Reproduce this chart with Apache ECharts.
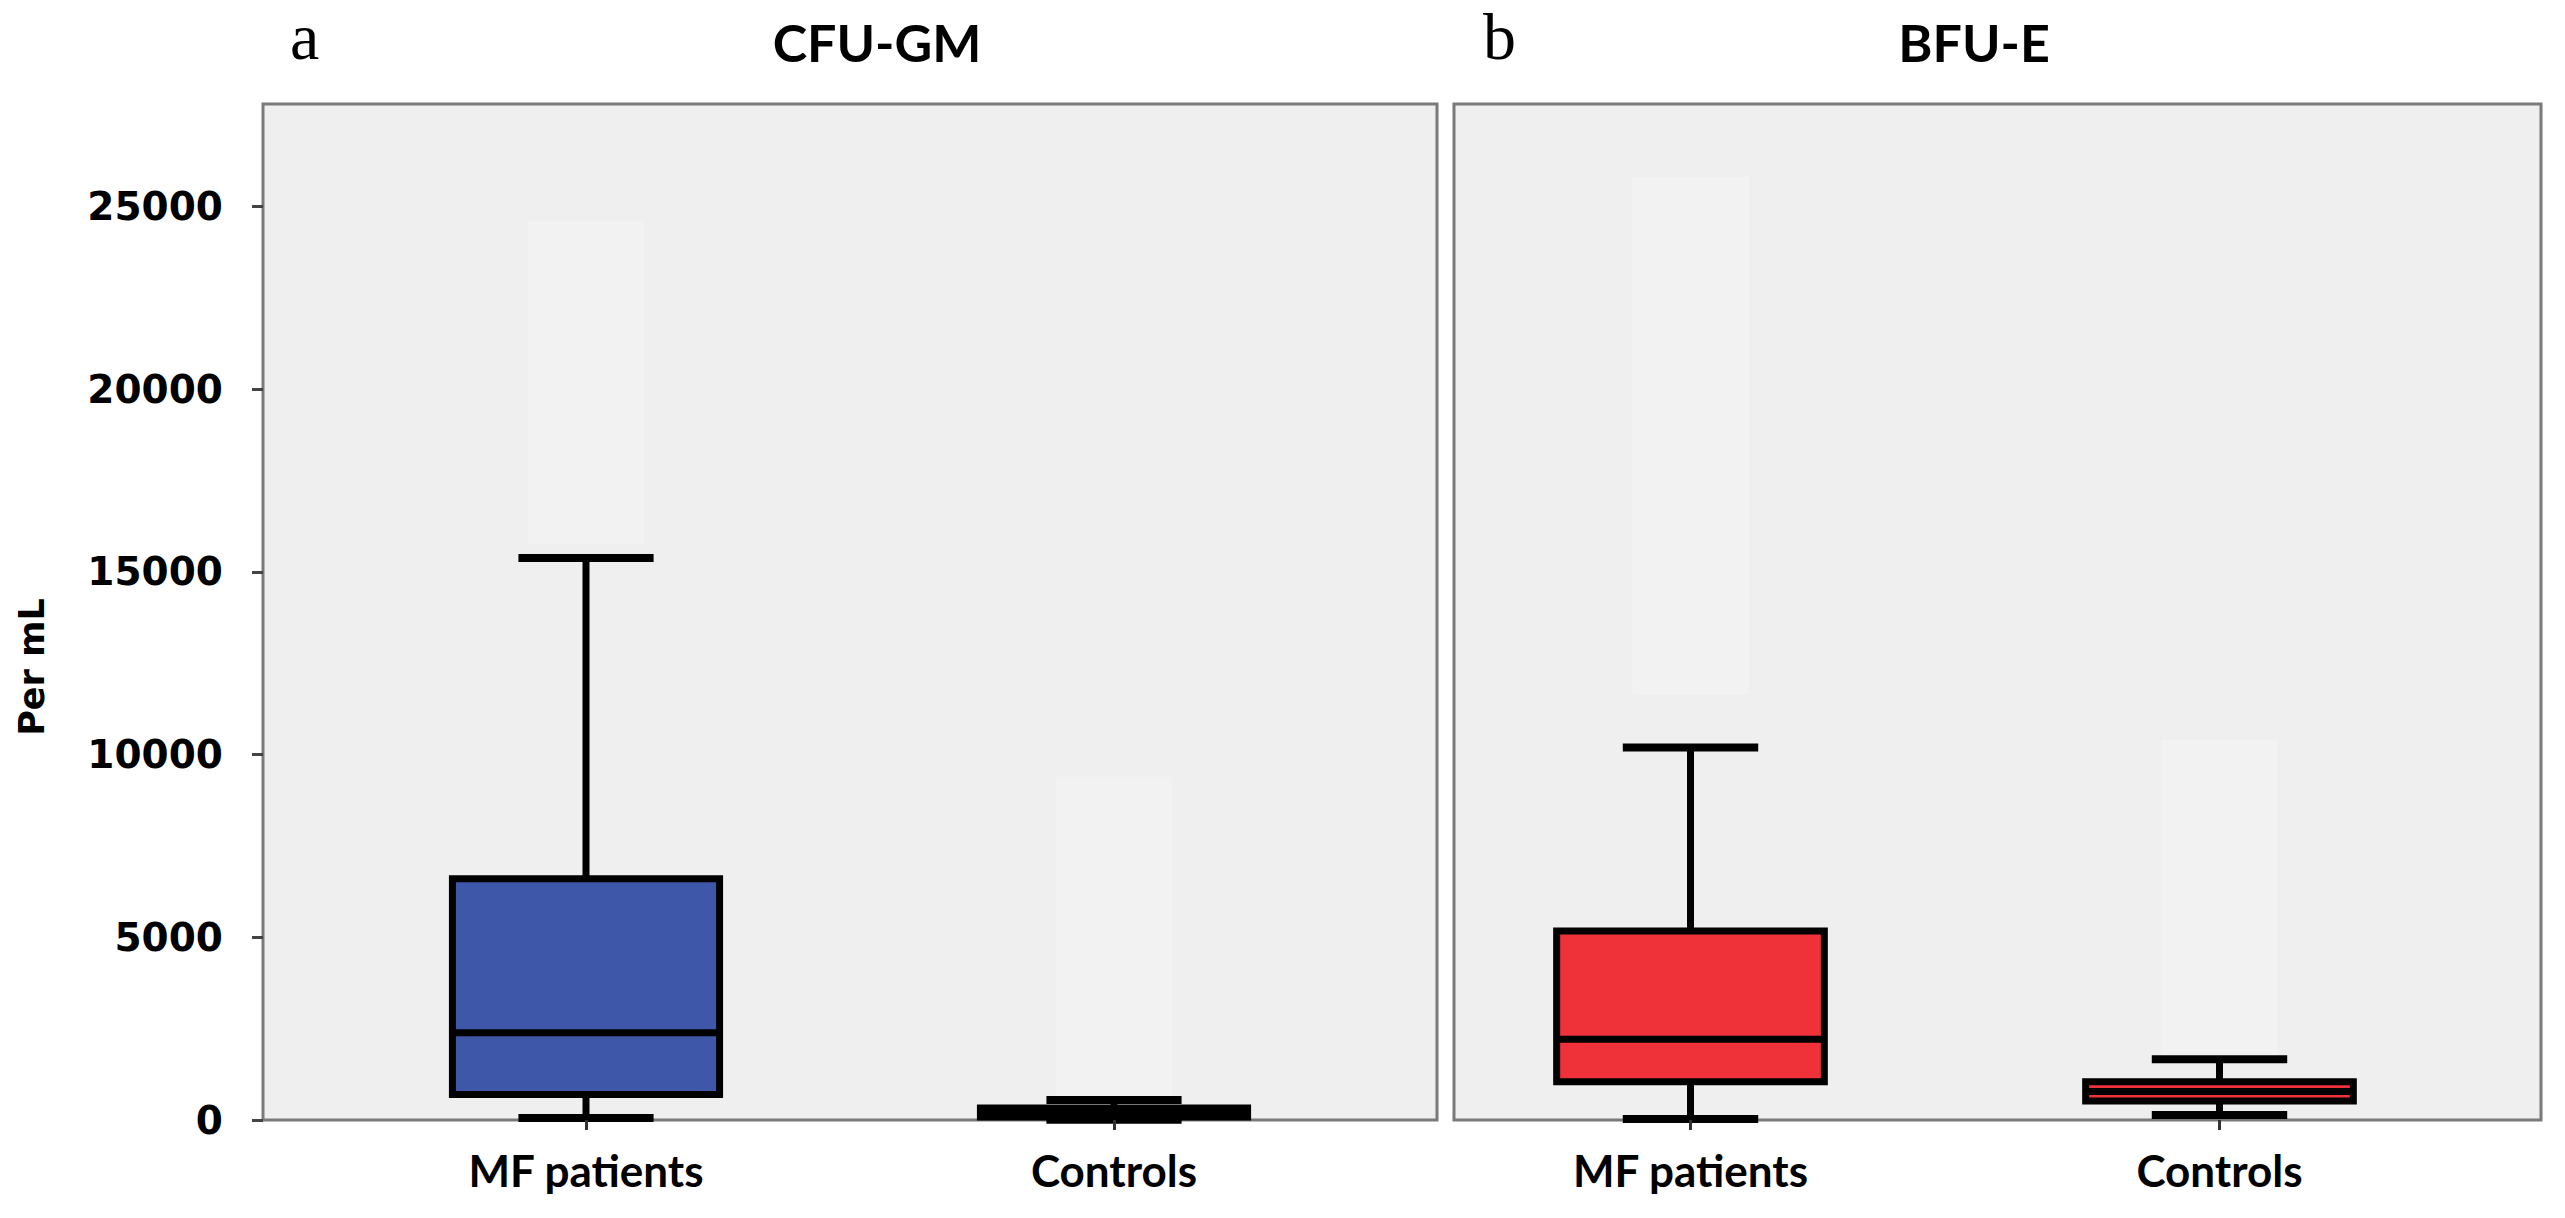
<!DOCTYPE html>
<html><head><meta charset="utf-8">
<script src="https://cdn.jsdelivr.net/npm/echarts@6/dist/echarts.min.js"></script>
<style>html,body{margin:0;padding:0;background:#fff}#chart{width:2565px;height:1218px}</style>
</head><body><div id="chart"></div>
<script>
const categories = ['MF patients', 'Controls'];
const panelTitles = ['CFU-GM', 'BFU-E'];
const panelLetters = ['a', 'b'];
const yAxisName = 'Per mL';
const yTicks = [0, 5000, 10000, 15000, 20000, 25000];
const yMax = 27800;

// CFU-GM box statistics per category
const cfuMin = [55, 10];
const cfuQ1 = [700, 80];
const cfuMedian = [2390, 200];
const cfuQ3 = [6600, 330];
const cfuMax = [15380, 547];
// BFU-E box statistics per category
const bfuMin = [30, 137];
const bfuQ1 = [1048, 520];
const bfuMedian = [2209, 780];
const bfuQ3 = [5173, 1048];
const bfuMax = [10190, 1660];
// faint light bands above each whisker
const cfuBandLow = [15750, 560];
const cfuBandHigh = [24600, 9400];
const bfuBandLow = [11650, 1700];
const bfuBandHigh = [25800, 10400];

const boxData = (mn, q1, md, q3, mx) => categories.map((c, i) => [i, mn[i], q1[i], md[i], q3[i], mx[i]]);
const bandData = (lo, hi) => categories.map((c, i) => [i, lo[i], hi[i]]);

function boxRenderer(fill) {
  return function (params, api) {
    const c = api.value(0);
    const band = api.size([1, 0])[0];
    const bw = band * 0.506, cw = band * 0.256;
    const pt = v => api.coord([c, v]);
    const pMin = pt(api.value(1)), pQ1 = pt(api.value(2)), pMed = pt(api.value(3)),
          pQ3 = pt(api.value(4)), pMax = pt(api.value(5));
    const x = pMin[0];
    const ls = {stroke: '#000', lineWidth: 7};
    return {type: 'group', children: [
      {type: 'line', shape: {x1: x, y1: pQ3[1], x2: x, y2: pMax[1]}, style: ls},
      {type: 'line', shape: {x1: x, y1: pQ1[1], x2: x, y2: pMin[1]}, style: ls},
      {type: 'rect', shape: {x: x - bw / 2, y: pQ3[1], width: bw, height: pQ1[1] - pQ3[1]},
        style: {fill: fill, stroke: '#000', lineWidth: 7}},
      {type: 'line', shape: {x1: x - bw / 2, y1: pMed[1], x2: x + bw / 2, y2: pMed[1]}, style: ls},
      {type: 'line', shape: {x1: x - cw / 2, y1: pMax[1], x2: x + cw / 2, y2: pMax[1]}, style: {stroke: '#000', lineWidth: 8}},
      {type: 'line', shape: {x1: x - cw / 2, y1: pMin[1], x2: x + cw / 2, y2: pMin[1]}, style: {stroke: '#000', lineWidth: 8}}
    ]};
  };
}
function bandRenderer(params, api) {
  const c = api.value(0);
  const band = api.size([1, 0])[0];
  const w = band * 0.22;
  const lo = api.coord([c, api.value(1)]), hi = api.coord([c, api.value(2)]);
  return {type: 'rect', shape: {x: lo[0] - w / 2, y: hi[1], width: w, height: lo[1] - hi[1]},
    style: {fill: '#f2f2f2'}};
}

const catFont = {fontFamily: 'Lato', fontWeight: 'bold', fontSize: 44, color: '#000'};
const grids = [
  {left: 322, width: 1056, top: 104, height: 1016},
  {left: 1426, width: 1058, top: 104, height: 1016}
];
const xAxes = [0, 1].map(g => ({
  type: 'category', gridIndex: g, data: categories, z: 5,
  axisLine: {show: false},
  axisTick: {show: true, alignWithLabel: true, length: 10, lineStyle: {color: '#333', width: 3}},
  axisLabel: Object.assign({margin: 28}, catFont),
  splitLine: {show: false}
}));
const yAxes = [0, 1].map(g => ({
  type: 'value', gridIndex: g, min: 0, max: yMax, z: 5,
  show: g === 0,
  offset: 59,
  axisLine: {show: false},
  axisTick: {show: true, customValues: yTicks, length: 11, lineStyle: {color: '#444', width: 3}},
  axisLabel: {customValues: yTicks, margin: 40, formatter: v => String(v),
    fontFamily: 'DejaVu Sans', fontWeight: 'bold', fontSize: 39, color: '#000'},
  splitLine: {show: false}
}));

const frameStyle = {fill: '#efefef', stroke: '#7a7a7a', lineWidth: 3};
const option = {
  animation: false,
  backgroundColor: '#fff',
  grid: grids,
  xAxis: xAxes,
  yAxis: yAxes,
  graphic: [
    {type: 'rect', z: -10, shape: {x: 263, y: 104, width: 1174, height: 1016}, style: frameStyle},
    {type: 'rect', z: -10, shape: {x: 1454, y: 104, width: 1087, height: 1016}, style: frameStyle},
    {type: 'text', x: 290, y: 36, style: {text: panelLetters[0], font: '66px "Liberation Serif"', fill: '#000', align: 'left', verticalAlign: 'middle'}},
    {type: 'text', x: 1483, y: 36, style: {text: panelLetters[1], font: '66px "Liberation Serif"', fill: '#000', align: 'left', verticalAlign: 'middle'}},
    {type: 'text', x: 877, y: 42, style: {text: panelTitles[0], font: 'bold 52px Lato', fill: '#000', align: 'center', verticalAlign: 'middle'}},
    {type: 'text', x: 1974, y: 42, style: {text: panelTitles[1], font: 'bold 52px Lato', fill: '#000', align: 'center', verticalAlign: 'middle'}},
    {type: 'text', x: 32, y: 667, rotation: Math.PI / 2, style: {text: yAxisName, font: 'bold 35px "DejaVu Sans"', fill: '#000', align: 'center', verticalAlign: 'middle'}}
  ],
  series: [
    {type: 'custom', name: 'CFU-GM band', xAxisIndex: 0, yAxisIndex: 0, z: 1, renderItem: bandRenderer,
      encode: {x: 0, y: [1, 2]}, data: bandData(cfuBandLow, cfuBandHigh)},
    {type: 'custom', name: 'BFU-E band', xAxisIndex: 1, yAxisIndex: 1, z: 1, renderItem: bandRenderer,
      encode: {x: 0, y: [1, 2]}, data: bandData(bfuBandLow, bfuBandHigh)},
    {type: 'custom', name: 'CFU-GM', xAxisIndex: 0, yAxisIndex: 0, z: 3, renderItem: boxRenderer('#3e57a8'),
      encode: {x: 0, y: [1, 2, 3, 4, 5]}, data: boxData(cfuMin, cfuQ1, cfuMedian, cfuQ3, cfuMax)},
    {type: 'custom', name: 'BFU-E', xAxisIndex: 1, yAxisIndex: 1, z: 3, renderItem: boxRenderer('#ef323a'),
      encode: {x: 0, y: [1, 2, 3, 4, 5]}, data: boxData(bfuMin, bfuQ1, bfuMedian, bfuQ3, bfuMax)}
  ]
};
const chart = echarts.init(document.getElementById('chart'), null, {renderer: 'svg'});
chart.setOption(option);
</script>
</body></html>
